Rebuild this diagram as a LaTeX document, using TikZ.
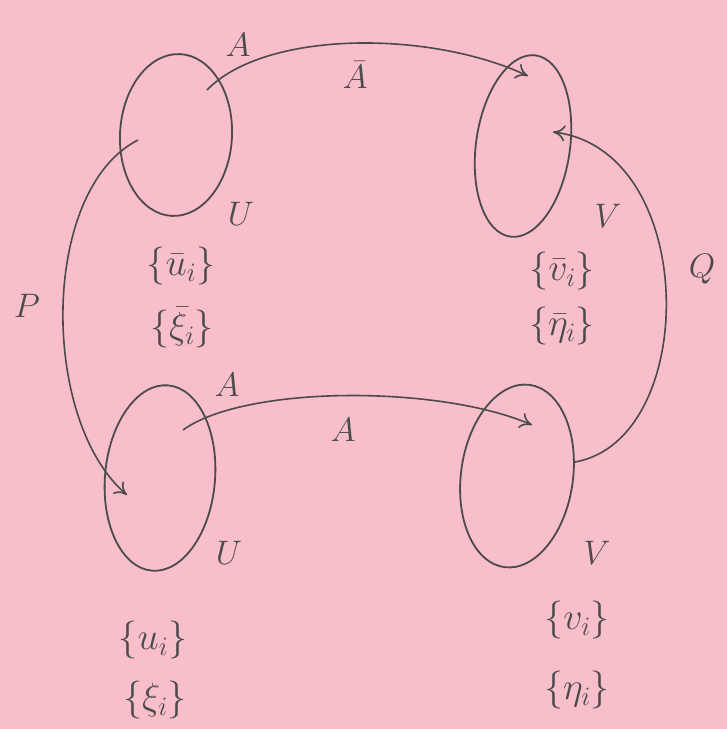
\RequirePackage{fix-cm}
\documentclass[tikz,border=0pt]{standalone}
\usetikzlibrary{shapes.geometric,calc,arrows.meta}
\definecolor{notepink}{RGB}{248,190,201}
\definecolor{pencil}{RGB}{75,75,75}
\tikzset{
  blob/.style={draw=pencil, ellipse, line width=1.8pt, inner sep=0pt},
  map/.style={draw=pencil, line width=1.6pt, -{To[length=12pt,width=16pt]}},
  lbl/.style={text=pencil, font=\fontsize{34}{40}\selectfont},
  setlbl/.style={text=pencil, inner sep=0pt, font=\fontsize{38}{44}\selectfont},
}

\begin{document}
\begin{tikzpicture}[x=1pt,y=-1pt]

\fill[notepink] (0,0) rectangle (727,729);
\useasboundingbox (0,0) rectangle (727,729);

% the four sets
\node[blob, minimum width=112pt, minimum height=162pt, rotate=-3] (uBar) at (176,135) {};
\node[blob, minimum width=94pt, minimum height=183pt, rotate=-8] (vBar) at (523,146) {};
\node[blob, minimum width=110pt, minimum height=186pt, rotate=-5] (uSet) at (160,478) {};
\node[blob, minimum width=112pt, minimum height=184pt, rotate=-8] (vSet) at (517,476) {};

% end points inside the sets
\coordinate (aBarS) at ($(uBar.center)+(31,-45)$);
\coordinate (pS) at ($(uBar.center)+(-38,5)$);
\coordinate (aBarE) at ($(vBar.center)+(5,-70)$);
\coordinate (qE) at ($(vBar.center)+(30,-14)$);
\coordinate (aS) at ($(uSet.center)+(23,-48)$);
\coordinate (pE) at ($(uSet.center)+(-33,17)$);
\coordinate (aE) at ($(vSet.center)+(15,-51)$);
\coordinate (qS) at ($(vSet.center)+(58,-14)$);

\draw[map] (aBarS) .. controls (265,30) and (430,30) .. (aBarE);
\draw[map] (aS) .. controls (245,385) and (440,385) .. (aE);
\draw[map] (pS) .. controls (40,190) and (40,420) .. (pE);
\draw[map] (qS) .. controls (700,440) and (700,150) .. (qE);

% labels
\node[lbl] (aTop) at (238,45) {$A$};
\node[lbl] (aBarLbl) at (355,75) {$\bar A$};
\node[lbl] (uBarLbl) at (241,214) {$U$};
\node[lbl] (vBarLbl) at (608,216) {$V$};
\node[lbl] (pLbl) at (27,306) {$P$};
\node[lbl] (qLbl) at (702,269) {$Q$};
\node[lbl] (aBot) at (227,385) {$A$};
\node[lbl] (aLbl) at (343,430) {$A$};
\node[lbl] (uLbl) at (229,553) {$U$};
\node[lbl] (vLbl) at (597,553) {$V$};

\node[setlbl] (ubSet) at (181,266) {$\{\bar u_i\}$};
\node[setlbl] (xbSet) at (182,328) {$\{\bar \xi_i\}$};
\node[setlbl] (vbSet) at (562,271) {$\{\bar v_i\}$};
\node[setlbl] (ebSet) at (562,326) {$\{\bar \eta_i\}$};
\node[setlbl] (uiSet) at (153,640) {$\{u_i\}$};
\node[setlbl] (xiSet) at (155,700) {$\{\xi_i\}$};
\node[setlbl] (viSet) at (577,620) {$\{v_i\}$};
\node[setlbl] (eiSet) at (577,690) {$\{\eta_i\}$};

\end{tikzpicture}
\end{document}
